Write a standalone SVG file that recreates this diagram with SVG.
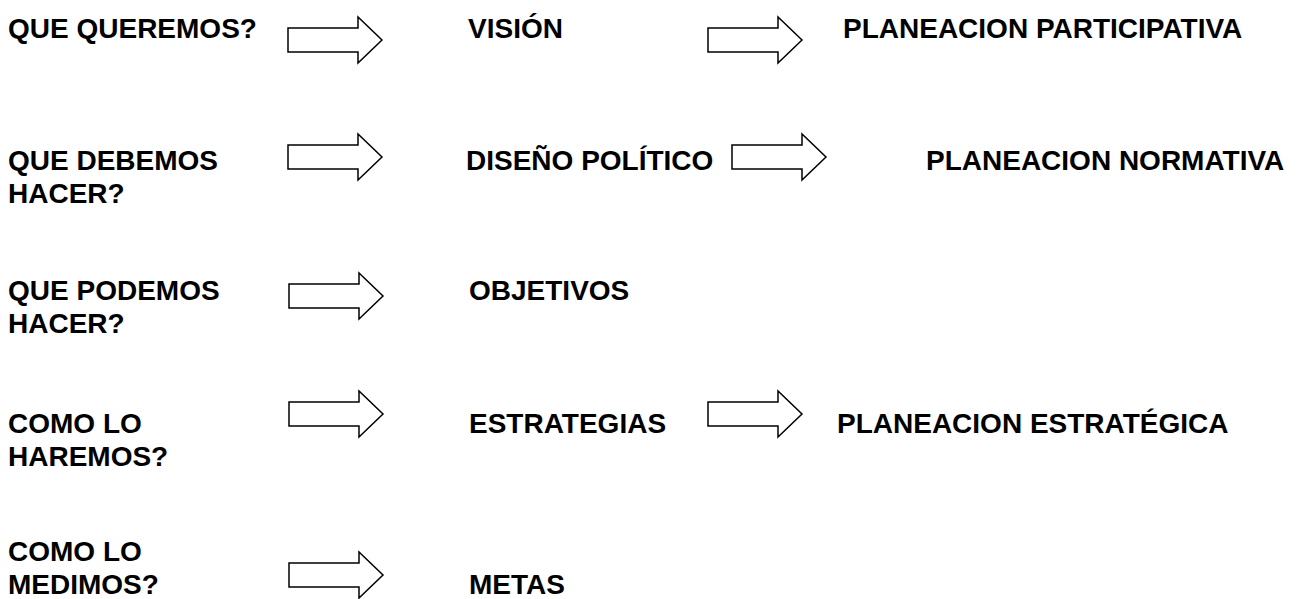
<svg xmlns="http://www.w3.org/2000/svg" xmlns:xlink="http://www.w3.org/1999/xlink" width="1299" height="599" viewBox="0 0 1299 599">
  <style>
    .t { font-family: "Liberation Sans", Arial, sans-serif; font-weight: bold; font-size: 28px; fill: #000; }
    .arr { fill: #fff; stroke: #000; stroke-width: 1.5; stroke-linejoin: miter; }
  </style>
  <defs>
    <polygon id="blockArrow" class="arr" points="0,-12 70,-12 70,-23 94,0 70,23 70,12 0,12"/>
  </defs>
  <rect width="1299" height="599" fill="#fff"/>

  <g id="connectors">
    <use xlink:href="#blockArrow" href="#blockArrow" transform="translate(288,40)"/>
    <use xlink:href="#blockArrow" href="#blockArrow" transform="translate(708,40)"/>
    <use xlink:href="#blockArrow" href="#blockArrow" transform="translate(288,157)"/>
    <use xlink:href="#blockArrow" href="#blockArrow" transform="translate(732,157)"/>
    <use xlink:href="#blockArrow" href="#blockArrow" transform="translate(289,296)"/>
    <use xlink:href="#blockArrow" href="#blockArrow" transform="translate(289,414)"/>
    <use xlink:href="#blockArrow" href="#blockArrow" transform="translate(708,414)"/>
    <use xlink:href="#blockArrow" href="#blockArrow" transform="translate(289,575)"/>
  </g>

  <g id="q1"><text class="t" x="8" y="38">QUE QUEREMOS?</text></g>
  <g id="vision"><text class="t" x="468" y="38">VISIÓN</text></g>
  <g id="p-participativa"><text class="t" x="843" y="38">PLANEACION PARTICIPATIVA</text></g>

  <g id="q2"><text class="t" x="8" y="170">QUE DEBEMOS</text><text class="t" x="8" y="203">HACER?</text></g>
  <g id="diseno"><text class="t" x="466" y="170">DISEÑO POLÍTICO</text></g>
  <g id="p-normativa"><text class="t" x="926" y="170">PLANEACION NORMATIVA</text></g>

  <g id="q3"><text class="t" x="8" y="300">QUE PODEMOS</text><text class="t" x="8" y="333">HACER?</text></g>
  <g id="objetivos"><text class="t" x="469" y="300">OBJETIVOS</text></g>

  <g id="q4"><text class="t" x="8" y="433">COMO LO</text><text class="t" x="8" y="466">HAREMOS?</text></g>
  <g id="estrategias"><text class="t" x="469" y="433">ESTRATEGIAS</text></g>
  <g id="p-estrategica"><text class="t" x="837" y="433">PLANEACION ESTRATÉGICA</text></g>

  <g id="q5"><text class="t" x="8" y="561">COMO LO</text><text class="t" x="8" y="594">MEDIMOS?</text></g>
  <g id="metas"><text class="t" x="469" y="594">METAS</text></g>
</svg>
